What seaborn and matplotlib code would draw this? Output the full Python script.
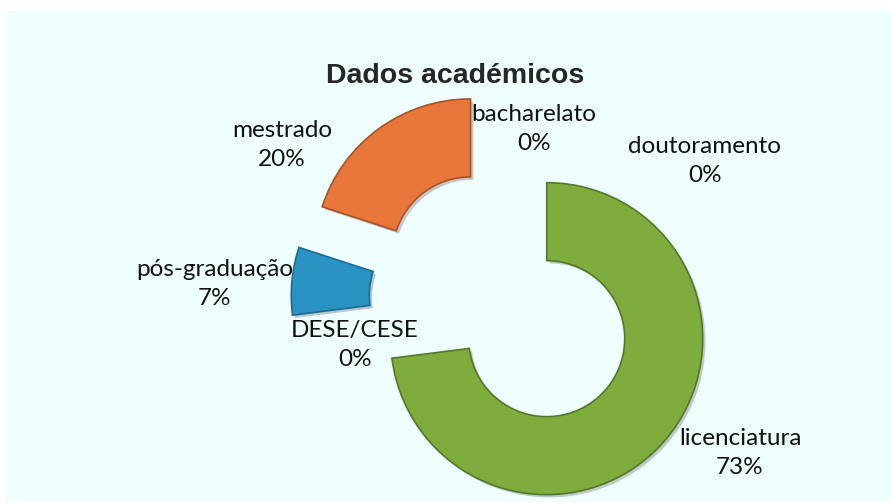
"""
Doughnut chart of academic qualifications (Dados académicos).
Exploded ring, slices start at 12 o'clock and run clockwise.
"""

import matplotlib
matplotlib.use("Agg")
import matplotlib.pyplot as plt
import matplotlib.patheffects as pe
import seaborn as sns

sns.set_style("white")
plt.rcParams["font.family"] = ["Lato", "DejaVu Sans"]

# data, in drawing order (clockwise from the top)
categories = ["doutoramento", "licenciatura", "DESE/CESE", "pós-graduação", "mestrado", "bacharelato"]
shares = [0, 73, 0, 7, 20, 0]
pct_labels = ["0%", "73%", "0%", "7%", "20%", "0%"]

# layout: label block centres (data units, ring outer radius = 1)
label_xy = [(1.288, 0.897), (1.513, -0.974), (-0.955, -0.282),
            (-1.853, 0.109), (-1.423, 1.0), (0.192, 1.103)]

colors = ["#4F81BD", "#7FAD3D", "#8064A2", "#2A93C4", "#E9773A", "#C0504D"]
edges = ["#3B6390", "#54772A", "#5E4A7A", "#1D6B90", "#A8532A", "#903C3A"]
BG = "#EFFEFF"

fig = plt.figure(figsize=(8.92, 5.04), dpi=100)
fig.patch.set_facecolor("white")

ax = fig.add_axes([0, 0, 1, 1])
ax.set_facecolor("none")

wedges, _ = ax.pie(
    shares,
    colors=colors,
    startangle=90,
    counterclock=False,
    explode=[0.365] * len(shares),
    radius=1.0,
    wedgeprops=dict(width=0.5, linewidth=1.2),
)
for w, ec, v in zip(wedges, edges, shares):
    if v == 0:
        w.set_visible(False)
        continue
    w.set_edgecolor(ec)
    w.set_path_effects([pe.SimplePatchShadow(offset=(2, -2), alpha=0.25), pe.Normal()])

# map data units to pixels: outer radius 156 px, pie centre at (504, 301)
R_PX = 156.0
cx, cy = 504.0, 301.0
ax.set_xlim(-cx / R_PX, (892 - cx) / R_PX)
ax.set_ylim((cy - 504) / R_PX, cy / R_PX)
ax.set_aspect("auto")
ax.axis("off")

# the light cyan chart area with a white margin on the left and top
ax.add_patch(plt.Rectangle((7 / 892, 0.004), 1, 1 - 11 / 504 - 0.004,
                           transform=ax.transAxes, facecolor=BG,
                           edgecolor="none", zorder=-10))

for name, pct, (lx, ly) in zip(categories, pct_labels, label_xy):
    ax.text(lx, ly, f"{name}\n{pct}", ha="center", va="center",
            fontsize=17.5, color="#111111", linespacing=1.5)

fig.text(455 / 892, 1 - 76 / 504, "Dados académicos", ha="center", va="center",
         fontsize=20.5, fontweight="bold", family=["Liberation Sans", "DejaVu Sans"])

fig.savefig("out.png", dpi=100)
